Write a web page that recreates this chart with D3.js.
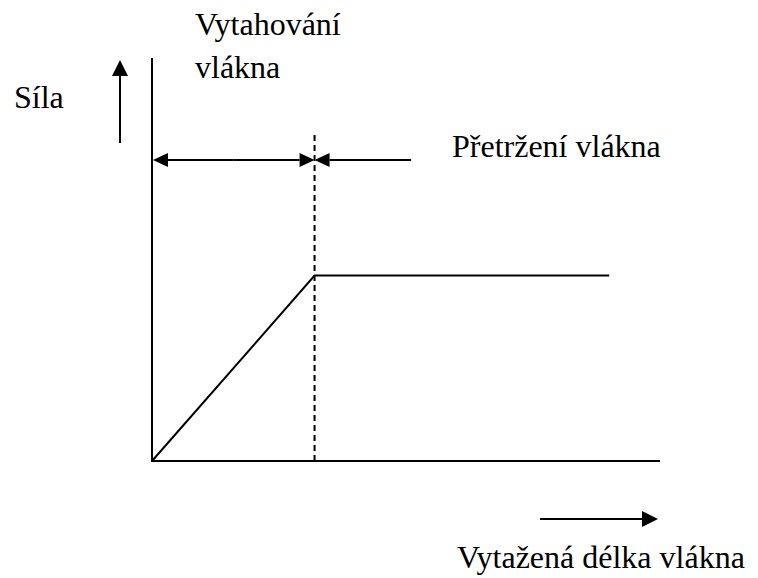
<!DOCTYPE html>
<html>
<head>
<meta charset="utf-8">
<script src="https://cdn.jsdelivr.net/npm/d3@7"></script>
<style>
  body { margin: 0; background: #fff; }
</style>
</head>
<body>
<svg id="chart"></svg>
<script>
// curve: force vs. drawn length (schematic units)
const elongation = [0, 32, 90];
const force = [0, 46, 46];
const breakX = 32;          // where the fibre pull-out ends
const breakTop = 81.5;      // top of the dashed marker
const spanY = 74.7;         // level of the phase arrows
const rightArrowEnd = 51;   // end of "Přetržení" arrow
const labels = {
  y: 'Síla',
  x: 'Vytažená délka vlákna',
  phase1: ['Vytahování', 'vlákna'],
  phase2: 'Přetržení vlákna'
};

const width = 758, height = 578;
const svg = d3.select('#chart').attr('width', width).attr('height', height);

const x = d3.scaleLinear().domain([0, 100]).range([152, 660]);
const y = d3.scaleLinear().domain([0, 100]).range([461, 58]);

const black = '#000';

// axes
svg.append('line').attr('x1', x(0)).attr('x2', x(0)).attr('y1', y(0) + 1).attr('y2', y(100))
  .attr('stroke', black).attr('stroke-width', 2);
svg.append('line').attr('x1', x(0)).attr('x2', x(100)).attr('y1', y(0)).attr('y2', y(0))
  .attr('stroke', black).attr('stroke-width', 2);

// force curve
const line = d3.line().x(d => x(d[0])).y(d => y(d[1]));
svg.append('path')
  .datum(elongation.map((e, i) => [e, force[i]]))
  .attr('d', line)
  .attr('fill', 'none').attr('stroke', black).attr('stroke-width', 2);

// dashed break marker
svg.append('line').attr('x1', x(breakX)).attr('x2', x(breakX)).attr('y1', y(0)).attr('y2', y(breakTop))
  .attr('stroke', black).attr('stroke-width', 2).attr('stroke-dasharray', '6,4');

// arrow helper: shaft from (x1,y1) to tip (x2,y2)
function arrow(x1, y1, x2, y2, len = 15, half = 7) {
  const a = Math.atan2(y2 - y1, x2 - x1);
  const bx = x2 - len * Math.cos(a), by = y2 - len * Math.sin(a);
  svg.append('line').attr('x1', x1).attr('y1', y1).attr('x2', bx).attr('y2', by)
    .attr('stroke', black).attr('stroke-width', 2);
  svg.append('path')
    .attr('d', d3.line()([
      [x2, y2],
      [bx + half * Math.sin(a), by - half * Math.cos(a)],
      [bx - half * Math.sin(a), by + half * Math.cos(a)]
    ]) + 'Z')
    .attr('fill', black);
}

// phase arrows
const ay = y(spanY);
const mid = (x(0) + x(breakX)) / 2;
arrow(mid, ay, x(0) + 1, ay);
arrow(mid, ay, x(breakX), ay);
arrow(x(rightArrowEnd), ay, x(breakX), ay);

// direction arrows next to the axes
arrow(120, 143, 120, 60, 16, 8);
arrow(540, 519, 658, 519, 16, 8);

// labels
const fs = 32;
const txt = (px, py, t) => svg.append('text')
  .attr('x', px).attr('y', py)
  .attr('font-family', '"Liberation Serif", "Times New Roman", serif')
  .attr('font-size', fs).attr('fill', black).text(t);
txt(14, 108, labels.y);
txt(457, 568, labels.x);
txt(452, 157, labels.phase2);
labels.phase1.forEach((t, i) => txt(195, 35 + i * 43, t));
</script>
</body>
</html>
